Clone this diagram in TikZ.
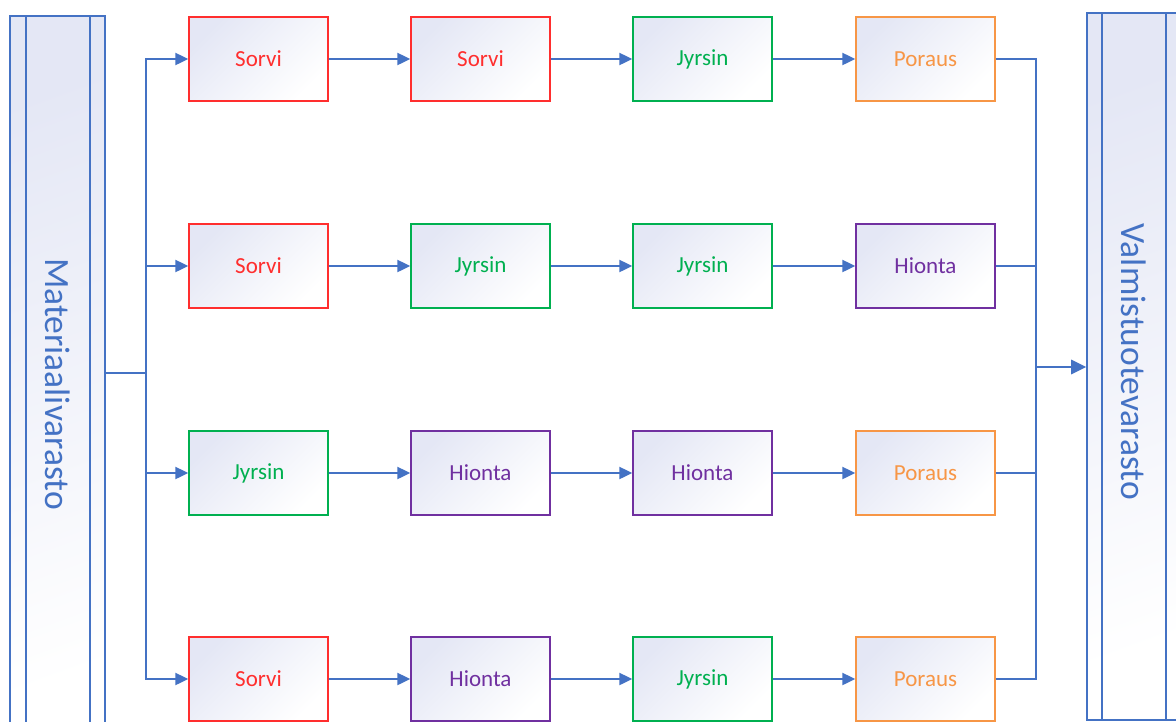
\documentclass[tikz,border=0pt]{standalone}
\usepackage{fontspec}
\setmainfont{Carlito}
\usetikzlibrary{arrows.meta}
\definecolor{linec}{HTML}{4472C4}
\definecolor{cred}{HTML}{FF2E2E}
\definecolor{cgreen}{HTML}{00B050}
\definecolor{cpurple}{HTML}{7030A0}
\definecolor{corange}{HTML}{F79646}
\definecolor{lav}{HTML}{E4E7F5}
\tikzset{
  procbox/.style={draw=#1, text=#1, line width=1.4pt, minimum width=139pt, minimum height=84pt,
    inner sep=0pt, left color=lav, right color=white, shading angle=45, font=\fontsize{23}{27}\selectfont},
  colbox/.style={draw=linec, line width=1.6pt, left color=lav, right color=white, shading angle=20, inner sep=0pt},
  coltext/.style={text=linec, font=\fontsize{35.5}{40}\selectfont, rotate=-90},
  conn/.style={draw=linec, line width=2.2pt},
  arr/.style={conn, -{Triangle[length=13pt,width=12pt]}},
  bigarr/.style={draw=linec, line width=2.8pt, -{Triangle[length=15pt,width=14pt]}},
}
\begin{document}
\begin{tikzpicture}[x=1pt,y=-1pt]
\useasboundingbox (0,0) rectangle (1176,721);
\clip (0,0) rectangle (1176,721);
\fill[white] (0,0) rectangle (1176,721);
% storage columns
\node[colbox, minimum width=95pt, minimum height=736pt] (mat) at (57.5,384) {};
\draw[linec, line width=1.6pt] ([xshift=17pt]mat.north west) -- ([xshift=17pt]mat.south west);
\draw[linec, line width=1.6pt] ([xshift=-16pt]mat.north east) -- ([xshift=-16pt]mat.south east);
\node[coltext] (matlabel) at (57.5,384) {Materiaalivarasto};
\node[colbox, minimum width=94pt, minimum height=707pt] (val) at (1134,366.5) {};
\draw[linec, line width=1.6pt] ([xshift=16pt]val.north west) -- ([xshift=16pt]val.south west);
\draw[linec, line width=1.6pt] ([xshift=-16pt]val.north east) -- ([xshift=-16pt]val.south east);
\node[coltext] (vallabel) at (1134,362) {Valmistuotevarasto};
% process boxes
\node[procbox=cred] (a1) at (258.5,59) {Sorvi};
\node[procbox=cred] (a2) at (480.5,59) {Sorvi};
\node[procbox=cgreen] (a3) at (702.5,59) {Jyrsin};
\node[procbox=corange] (a4) at (925.5,59) {Poraus};
\node[procbox=cred] (b1) at (258.5,266) {Sorvi};
\node[procbox=cgreen] (b2) at (480.5,266) {Jyrsin};
\node[procbox=cgreen] (b3) at (702.5,266) {Jyrsin};
\node[procbox=cpurple] (b4) at (925.5,266) {Hionta};
\node[procbox=cgreen] (c1) at (258.5,473) {Jyrsin};
\node[procbox=cpurple] (c2) at (480.5,473) {Hionta};
\node[procbox=cpurple] (c3) at (702.5,473) {Hionta};
\node[procbox=corange] (c4) at (925.5,473) {Poraus};
\node[procbox=cred] (d1) at (258.5,679) {Sorvi};
\node[procbox=cpurple] (d2) at (480.5,679) {Hionta};
\node[procbox=cgreen] (d3) at (702.5,679) {Jyrsin};
\node[procbox=corange] (d4) at (925.5,679) {Poraus};
% connectors within rows
\foreach \r in {a,b,c,d}{
  \draw[arr] (\r1) -- (\r2);
  \draw[arr] (\r2) -- (\r3);
  \draw[arr] (\r3) -- (\r4);
}
% left distribution
\coordinate (busL) at (146,373);
\draw[draw=linec, line width=2.8pt] (mat.east |- busL) -- (busL);
\foreach \r in {a,b,c,d}{
  \draw[arr] (busL) |- (\r1.west);
}
% right merge
\coordinate (busR) at (1036,367);
\foreach \r in {a,b,c,d}{
  \draw[conn] (\r4.east) -| (busR);
}
\draw[bigarr] (busR) -- (val.west |- busR);
\end{tikzpicture}
\end{document}
